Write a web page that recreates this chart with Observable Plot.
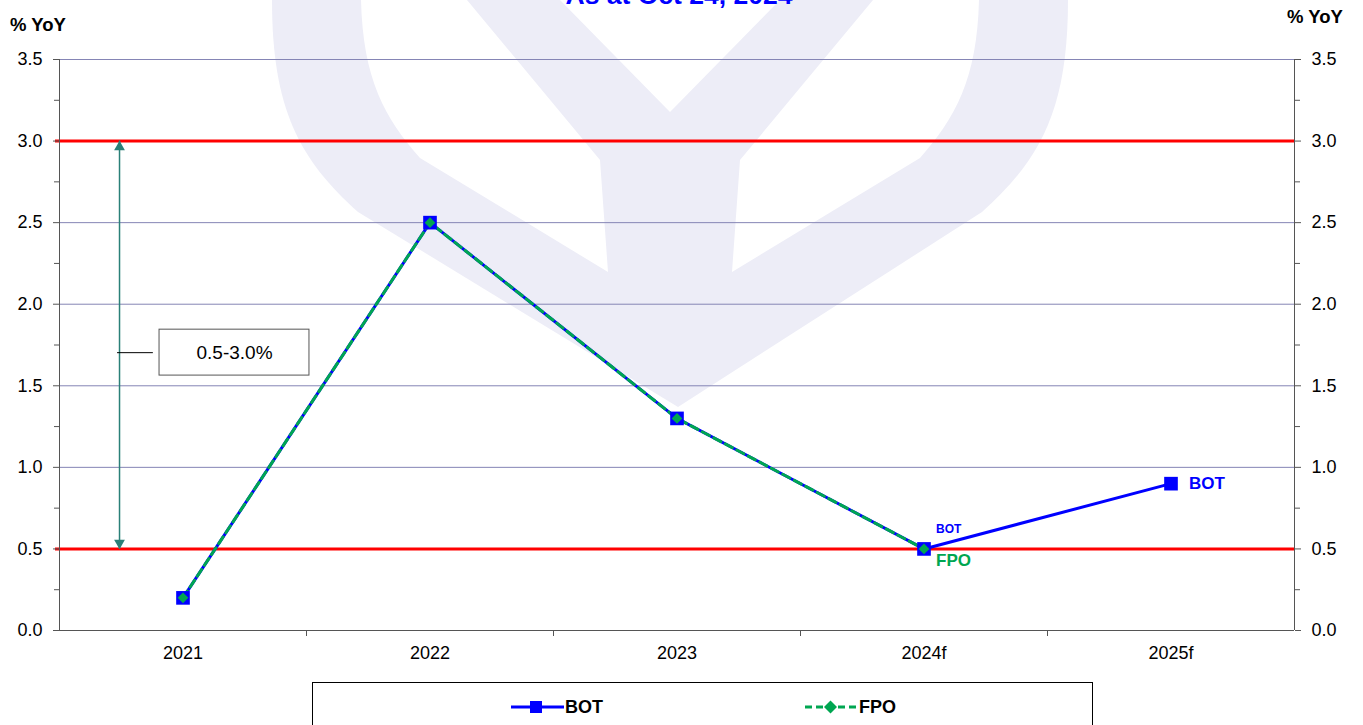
<!DOCTYPE html>
<html><head><meta charset="utf-8">
<script src="https://cdn.jsdelivr.net/npm/d3@7"></script>
<script src="https://cdn.jsdelivr.net/npm/@observablehq/plot@0.6"></script>
<style>
html,body{margin:0;padding:0;background:#fff;overflow:hidden}
body{width:1363px;height:725px;position:relative;font-family:"Liberation Sans",Arial,sans-serif}
#bg{position:absolute;left:0;top:0}
#chart{position:absolute;left:0;top:0}
#legend{position:absolute;left:312px;top:682px;width:781px;height:60px;border:1px solid #000;box-sizing:border-box;background:#fff}
.lg{position:absolute;top:14px;height:20px;display:flex;align-items:center}
.lg span{font-weight:bold;font-size:18px;color:#000;margin-left:1px}
</style></head><body>
<svg id="bg" width="1363" height="725">
  <g fill="#ededf7">
    <path d="M272,-40 L272,0 C272,110 300,160 358,212 L678,407 L982,212 C1040,160 1068,110 1068,0 L1068,-40 Z"/>
  </g>
  <g fill="#ffffff">
    <path d="M361,-40 L361,0 C363,80 385,118 420,158 L608,272 L600,160 L467,0 L467,-40 Z"/>
    <path d="M979,-40 L979,0 C977,80 955,118 920,158 L732,272 L740,160 L873,0 L873,-40 Z"/>
    <path d="M560,-40 L560,0 L670,112 L780,0 L780,-40 Z"/>
  </g>
  <text x="679" y="4" text-anchor="middle" font-family="Liberation Sans, Arial, sans-serif" font-weight="bold" font-size="26.5" fill="#0000ff">As at Oct 24, 2024</text>
  <text x="10" y="31" font-family="Liberation Sans, Arial, sans-serif" font-weight="bold" font-size="18.5" fill="#000">% YoY</text>
  <text x="1287" y="23" font-family="Liberation Sans, Arial, sans-serif" font-weight="bold" font-size="18.5" fill="#000">% YoY</text>
</svg>
<div id="chart"></div>
<div id="legend">
  <div class="lg" style="left:198px">
    <svg width="53" height="14"><line x1="0" y1="7" x2="53" y2="7" stroke="#0000ff" stroke-width="3"/><rect x="19" y="1" width="12" height="12" fill="#0000ff"/></svg><span>BOT</span>
  </div>
  <div class="lg" style="left:492px">
    <svg width="53" height="14"><line x1="0" y1="7" x2="53" y2="7" stroke="#00a651" stroke-width="3" stroke-dasharray="7,4"/><path d="M25.5,0.5 L32,7 L25.5,13.5 L19,7 Z" fill="#00a651"/></svg><span>FPO</span>
  </div>
</div>
<script>
const categories = ["2021", "2022", "2023", "2024f", "2025f"];
const botValues = [0.2, 2.5, 1.3, 0.5, 0.9];
const fpoValues = [0.2, 2.5, 1.3, 0.5];
const yMajorTicks = [0, 0.5, 1.0, 1.5, 2.0, 2.5, 3.0, 3.5];
const yMinorTicks = [0.25, 0.75, 1.25, 1.75, 2.25, 2.75, 3.25];
const gridValues = [0.5, 1.0, 1.5, 2.0, 2.5, 3.0, 3.5];
const targetBand = [0.5, 3.0];
const targetLabel = "0.5-3.0%";

const botData = botValues.map((v, i) => ({i, v, name: "BOT"}));
const fpoData = fpoValues.map((v, i) => ({i, v, name: "FPO"}));
const catIdx = categories.map((c, i) => i);
const boundaries = categories.slice(1).map((c, i) => i + 0.5);

const blue = "#0000ff", green = "#00a651", teal = "#2a8078", axisC = "#555555";
const annX = -0.257;

const chart = Plot.plot({
  width: 1363,
  height: 672,
  marginLeft: 59,
  marginRight: 69,
  marginTop: 59,
  marginBottom: 42,
  style: {background: "transparent", fontFamily: "Liberation Sans, Arial, sans-serif", fontSize: "18px", overflow: "visible"},
  x: {type: "linear", domain: [-0.5, categories.length - 0.5]},
  y: {domain: [0, 3.5]},
  marks: [
    Plot.ruleY(gridValues, {stroke: "#8585b5", strokeWidth: 1}),
    Plot.ruleY(targetBand, {stroke: "#ff0000", strokeWidth: 3, insetLeft: -4}),
    Plot.ruleY([0], {stroke: axisC, strokeWidth: 1}),
    Plot.ruleX([-0.5, categories.length - 0.5], {y1: 0, y2: 3.5, stroke: axisC, strokeWidth: 1}),
    Plot.axisY({anchor: "left", ticks: yMajorTicks, tickSize: 6, tickPadding: 11, tickFormat: d => d.toFixed(1), stroke: axisC, fill: "#000", label: null, fontSize: 18}),
    Plot.axisY({anchor: "left", ticks: yMinorTicks, tickSize: 5, tickFormat: () => "", stroke: axisC, label: null}),
    Plot.axisY({anchor: "right", ticks: yMajorTicks, tickSize: 6, tickPadding: 11, tickFormat: d => d.toFixed(1), stroke: axisC, fill: "#000", label: null, fontSize: 18}),
    Plot.axisY({anchor: "right", ticks: yMinorTicks, tickSize: 5, tickFormat: () => "", stroke: axisC, label: null}),
    Plot.axisX({anchor: "bottom", ticks: boundaries, tickSize: 6, tickFormat: () => "", stroke: axisC, label: null}),
    Plot.axisX({anchor: "bottom", ticks: catIdx, tickSize: 0, tickPadding: 16, tickFormat: i => categories[i], fill: "#000", label: null, fontSize: 18}),
    // target range annotation
    Plot.ruleX([annX], {y1: targetBand[0], y2: targetBand[1], stroke: teal, strokeWidth: 1.5}),
    Plot.dot([targetBand[1]], {x: annX, y: d => d, symbol: "triangle", r: 4, fill: teal, stroke: "none", dy: 6}),
    Plot.dot([targetBand[0]], {x: annX, y: d => d, symbol: "triangle", r: 4, fill: teal, stroke: "none", rotate: 180, dy: -6}),
    Plot.ruleY([1.703], {x1: -0.265, x2: -0.12, stroke: "#000", strokeWidth: 1}),
    Plot.rect([0], {x1: -0.095, x2: 0.512, y1: 1.5625, y2: 1.844, fill: "#fff", stroke: "#555", strokeWidth: 1}),
    Plot.text([targetLabel], {x: 0.2085, y: 1.703, text: d => d, fontSize: 19, fill: "#000"}),
    // series
    Plot.line(botData, {x: "i", y: "v", stroke: blue, strokeWidth: 3}),
    Plot.line(fpoData, {x: "i", y: "v", stroke: green, strokeWidth: 3, strokeDasharray: "8,5"}),
    Plot.dot(botData, {x: "i", y: "v", symbol: "square", r: 7.7, fill: blue, stroke: "none"}),
    Plot.dot(fpoData, {x: "i", y: "v", symbol: "diamond2", r: 4.8, fill: green, stroke: "none"}),
    // labels
    Plot.text(botData.slice(-1), {x: "i", y: "v", text: "name", dx: 18, textAnchor: "start", fontWeight: "bold", fontSize: 17, fill: blue}),
    Plot.text(botData.slice(3, 4), {x: "i", y: "v", text: "name", dx: 12, dy: -20, textAnchor: "start", fontWeight: "bold", fontSize: 12, fill: blue}),
    Plot.text(fpoData.slice(-1), {x: "i", y: "v", text: "name", dx: 12, dy: 12, textAnchor: "start", fontWeight: "bold", fontSize: 17, fill: green})
  ]
});
document.getElementById("chart").appendChild(chart);
</script>
</body></html>
